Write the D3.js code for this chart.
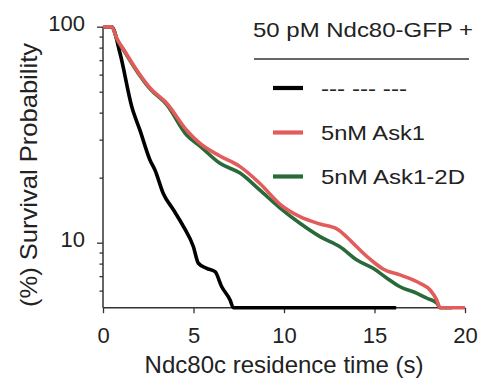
<!DOCTYPE html>
<html>
<head>
<meta charset="utf-8">
<script src="https://cdn.jsdelivr.net/npm/d3@7"></script>
<style>
  html, body { margin: 0; padding: 0; background: #fff; }
  svg { display: block; font-family: "Liberation Sans", Arial, Helvetica, sans-serif; }
</style>
</head>
<body>
<svg id="chart" width="483" height="384"></svg>
<script>
// ---- Data ----
const xTicks = [0, 5, 10, 15, 20];
const yMajorTicks = [10, 100];
const yMinorTicks = [6, 7, 8, 9, 20, 30, 40, 50, 60, 70, 80, 90];

const legendTitle = "50 pM Ndc80-GFP +";
const seriesNames = ["--- --- ---", "5nM Ask1", "5nM Ask1-2D"];
const seriesColors = ["#000000", "#e25c5c", "#2a6a3a"];

// residence time (s)
const controlTime = [0, 0.48, 0.94, 1.59, 2.04, 2.60, 2.87, 3.33, 3.89, 4.44, 4.99, 5.27, 5.73, 6.19, 6.56, 7.02, 7.20, 16.2];
const controlSurv = [100, 100, 75.3, 42.6, 33.2, 24.1, 21.7, 16.9, 14.2, 11.9, 9.6, 8.03, 7.61, 7.34, 6.25, 5.43, 5.0, 5.0];

const ask1Time = [0, 0.48, 0.76, 1.22, 1.86, 2.60, 3.52, 4.62, 5.36, 6.46, 7.57, 8.67, 9.77, 10.88, 11.99, 12.93, 13.48, 14.03, 14.31, 14.92, 15.47, 16.41, 17.51, 18.07, 18.44, 18.62, 20.0];
const ask1Surv = [100, 100, 88.4, 76.6, 63.0, 52.0, 44.2, 33.2, 28.8, 25.2, 22.5, 18.8, 15.1, 13.2, 12.2, 11.57, 10.6, 9.55, 9.06, 8.17, 7.55, 7.09, 6.49, 6.04, 5.43, 5.0, 5.0];

const ask12dTime = [0, 0.48, 0.76, 1.22, 1.86, 2.60, 3.52, 4.62, 5.36, 6.46, 7.57, 8.67, 9.77, 10.88, 11.99, 13.09, 14.03, 14.92, 15.69, 16.41, 17.35, 17.90, 18.45, 18.62, 19.28];
const ask12dSurv = [100, 100, 87.8, 75.9, 62.4, 51.5, 43.6, 31.5, 28.0, 23.3, 21.0, 17.5, 14.5, 12.3, 10.67, 9.58, 8.32, 7.61, 6.85, 6.25, 5.83, 5.53, 5.24, 5.0, 5.0];

// ---- Scales ----
const svg = d3.select("#chart");
const x = d3.scaleLinear().domain([0, 20]).range([103, 465]);
const y = d3.scaleLog().domain([5, 100]).range([307.7, 26.7]).clamp(true);
const axisColor = "#333";

// ---- Axes ----
const gx = svg.append("g").attr("transform", `translate(0,${y(5)})`)
  .call(d3.axisBottom(x).tickValues(xTicks).tickSize(5.5).tickPadding(14).tickFormat(d3.format("d")));
gx.selectAll("text").attr("font-size", 22).attr("fill", "#222").attr("font-family", "Liberation Sans, Arial, sans-serif");

const gyMinor = svg.append("g").attr("transform", `translate(${x(0)},0)`)
  .call(d3.axisLeft(y).tickValues(yMinorTicks).tickSize(3.5).tickFormat(""));
gyMinor.select(".domain").remove();

const gy = svg.append("g").attr("transform", `translate(${x(0)},0)`)
  .call(d3.axisLeft(y).tickValues(yMajorTicks).tickSize(6).tickPadding(12).tickFormat(d3.format("d")));
gy.selectAll("text").attr("font-size", 22).attr("fill", "#222").attr("dy", "4px").attr("font-family", "Liberation Sans, Arial, sans-serif");

svg.selectAll(".domain").attr("stroke", axisColor).attr("stroke-width", 1.5);
svg.selectAll(".tick line").attr("stroke", axisColor).attr("stroke-width", 1.3);
gx.select(".domain").attr("d", `M${x(0)},0H${x(20)}`);
gy.select(".domain").attr("d", `M0,${y(100)}V${y(5)}`);

// ---- Curves ----
const line = d3.line().x(d => x(d[0])).y(d => y(d[1])).curve(d3.curveMonotoneX);
const series = [
  { t: controlTime, v: controlSurv, c: seriesColors[0] },
  { t: ask12dTime, v: ask12dSurv, c: seriesColors[2] },
  { t: ask1Time, v: ask1Surv, c: seriesColors[1] }
];
series.forEach(s => {
  svg.append("path")
    .datum(s.t.map((t, i) => [t, s.v[i]]))
    .attr("d", line)
    .attr("fill", "none")
    .attr("stroke", s.c)
    .attr("stroke-width", 3.6)
    .attr("stroke-linejoin", "round");
});

// ---- Axis titles ----
svg.append("text")
  .attr("x", (x(0) + x(20)) / 2).attr("y", 373)
  .attr("text-anchor", "middle").attr("font-size", 24).attr("fill", "#222")
  .text("Ndc80c residence time (s)");

svg.append("text")
  .attr("transform", "translate(36.5,175) rotate(-90)")
  .attr("text-anchor", "middle").attr("font-size", 24).attr("fill", "#222")
  .attr("textLength", 264).attr("lengthAdjust", "spacingAndGlyphs")
  .text("(%) Survival Probability");

// ---- Legend ----
const lg = svg.append("g");
lg.append("text").attr("x", 253).attr("y", 37).attr("font-size", 21).attr("fill", "#222")
  .attr("textLength", 220).attr("lengthAdjust", "spacingAndGlyphs")
  .text(legendTitle);
lg.append("line").attr("x1", 254).attr("x2", 469).attr("y1", 59).attr("y2", 59)
  .attr("stroke", "#333").attr("stroke-width", 1.3);

const entryY = [88, 132.5, 176.5];
const textLens = [86, 104, 144];
seriesNames.forEach((name, i) => {
  lg.append("line").attr("x1", 273).attr("x2", 303).attr("y1", entryY[i]).attr("y2", entryY[i])
    .attr("stroke", seriesColors[i]).attr("stroke-width", 4.2);
  lg.append("text").attr("x", 321).attr("y", entryY[i] + 7.5)
    .attr("font-size", 21).attr("fill", "#222")
    .attr("textLength", textLens[i]).attr("lengthAdjust", "spacingAndGlyphs")
    .text(name);
});
</script>
</body>
</html>
